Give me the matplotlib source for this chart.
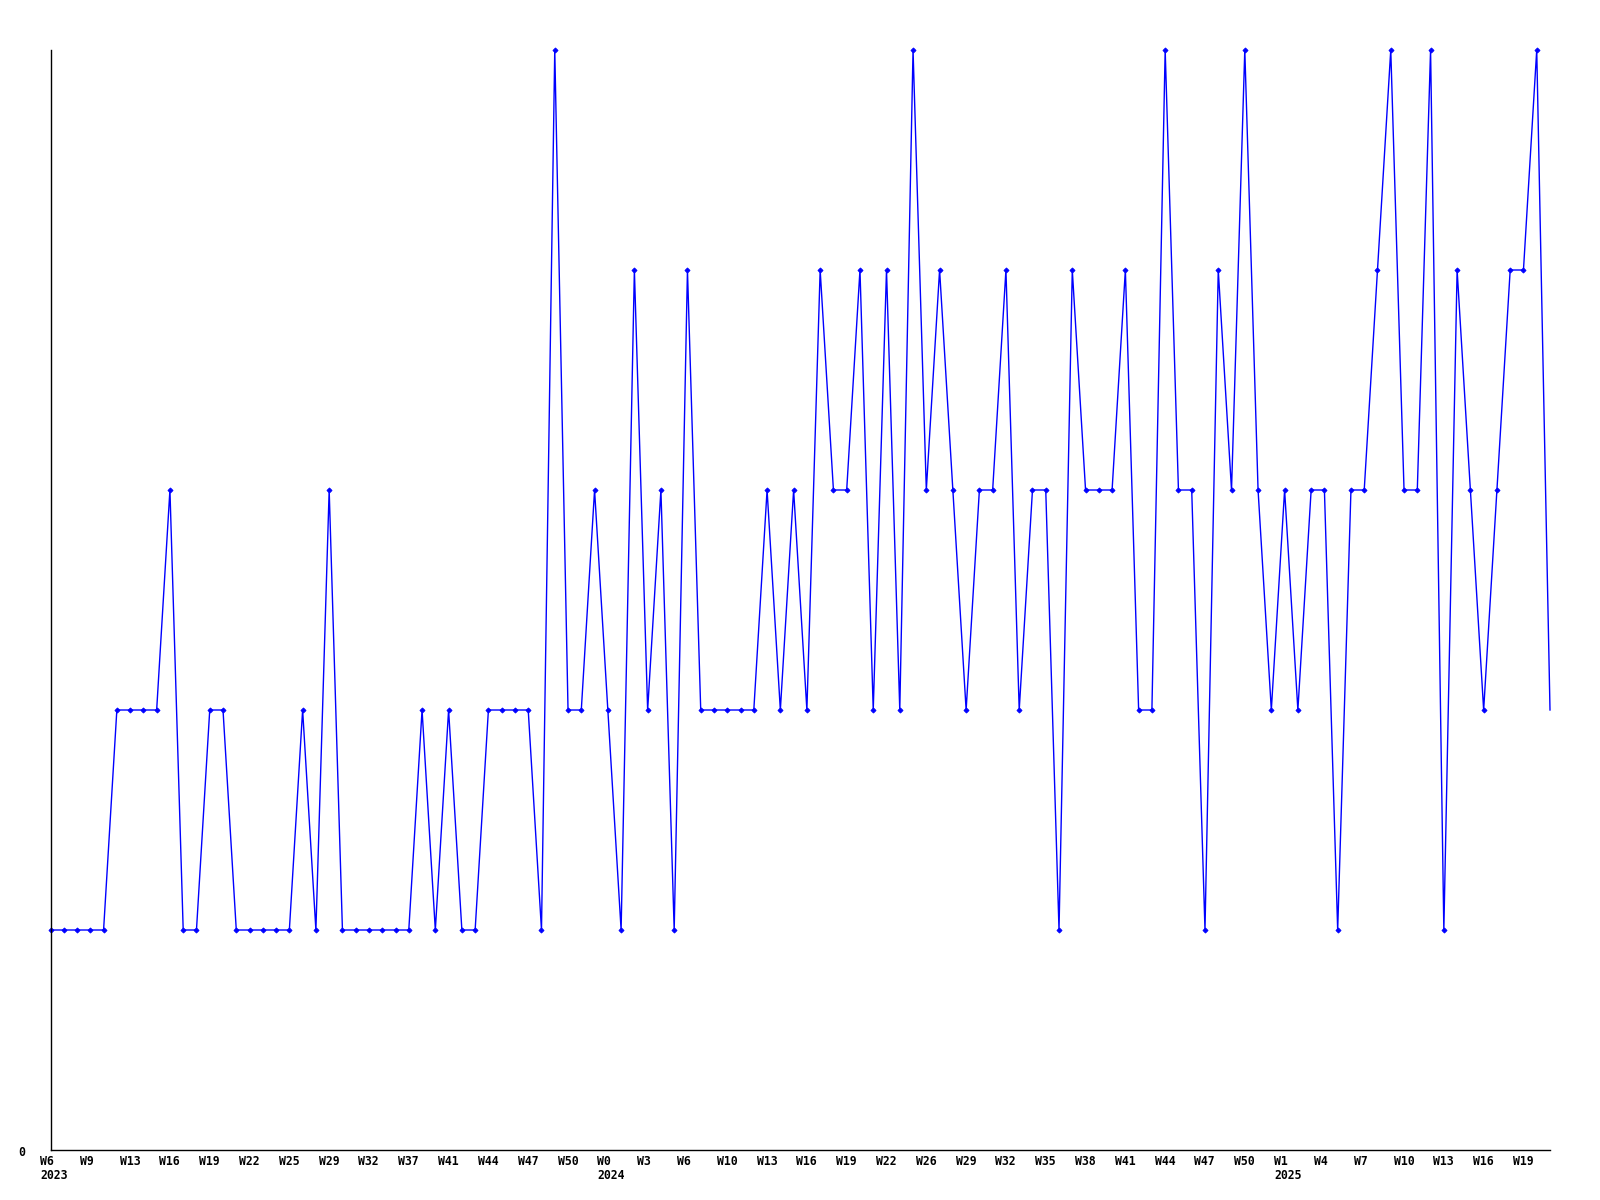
import matplotlib
matplotlib.use("Agg")
import matplotlib.pyplot as plt
from matplotlib import transforms

# ---- data ----
values = [1, 1, 1, 1, 1, 2, 2, 2, 2, 3, 1, 1, 2, 2, 1, 1, 1, 1, 1, 2,
          1, 3, 1, 1, 1, 1, 1, 1, 2, 1, 2, 1, 1, 2, 2, 2, 2, 1, 5, 2,
          2, 3, 2, 1, 4, 2, 3, 1, 4, 2, 2, 2, 2, 2, 3, 2, 3, 2, 4, 3,
          3, 4, 2, 4, 2, 5, 3, 4, 3, 2, 3, 3, 4, 2, 3, 3, 1, 4, 3, 3,
          3, 4, 2, 2, 5, 3, 3, 1, 4, 3, 5, 3, 2, 3, 2, 3, 3, 1, 3, 3,
          4, 5, 3, 3, 5, 1, 4, 3, 2, 3, 4, 4, 5, 2]
week_labels = ["W6", "W9", "W13", "W16", "W19", "W22", "W25", "W29", "W32", "W37",
               "W41", "W44", "W47", "W50", "W0", "W3", "W6", "W10", "W13", "W16",
               "W19", "W22", "W26", "W29", "W32", "W35", "W38", "W41", "W44", "W47",
               "W50", "W1", "W4", "W7", "W10", "W13", "W16", "W19"]
label_step = 3
year_labels = {0: "2023", 14: "2024", 31: "2025"}  # index into week_labels

# ---- figure ----
W, H = 1600, 1200
fig = plt.figure(figsize=(16, 12), dpi=100)
left, right, top, bottom = 50.5, 1550, 50, 1150
ax = fig.add_axes([left / W, (H - bottom) / H, (right - left) / W, (bottom - top) / H])

x = list(range(len(values)))
blue = "#0000ff"
ax.plot(x, values, color=blue, linewidth=1.0, solid_joinstyle="miter", clip_on=False)
ax.plot(x[:-1], values[:-1], linestyle="none", marker="D", markersize=2.6,
        color=blue, markeredgewidth=0.6, clip_on=False)

ax.set_xlim(0, len(values) - 1)
ax.set_ylim(0, max(values))
for s in ("top", "right"):
    ax.spines[s].set_visible(False)
for s in ("left", "bottom"):
    ax.spines[s].set_color("black")
    ax.spines[s].set_linewidth(1.0)
ax.set_xticks([])
ax.set_yticks([])

font = dict(family="DejaVu Sans Mono", weight="bold", fontsize=8.3, color="black")
trans_x = transforms.blended_transform_factory(ax.transData, ax.transAxes)
off = transforms.ScaledTranslation(-10.5 / 100, 0, fig.dpi_scale_trans)
for k, lab in enumerate(week_labels):
    xi = k * label_step
    ax.text(xi, 0, lab, transform=trans_x + off + transforms.ScaledTranslation(0, -5 / 100, fig.dpi_scale_trans),
            ha="left", va="top", **font)
    if k in year_labels:
        ax.text(xi, 0, year_labels[k], transform=trans_x + off + transforms.ScaledTranslation(0, -19 / 100, fig.dpi_scale_trans),
                ha="left", va="top", **font)

ax.text(0, 0, "0", transform=ax.transData + transforms.ScaledTranslation(-25 / 100, -0.025, fig.dpi_scale_trans),
        ha="right", va="center", **font)

fig.savefig("out.png", dpi=100, facecolor="white")
